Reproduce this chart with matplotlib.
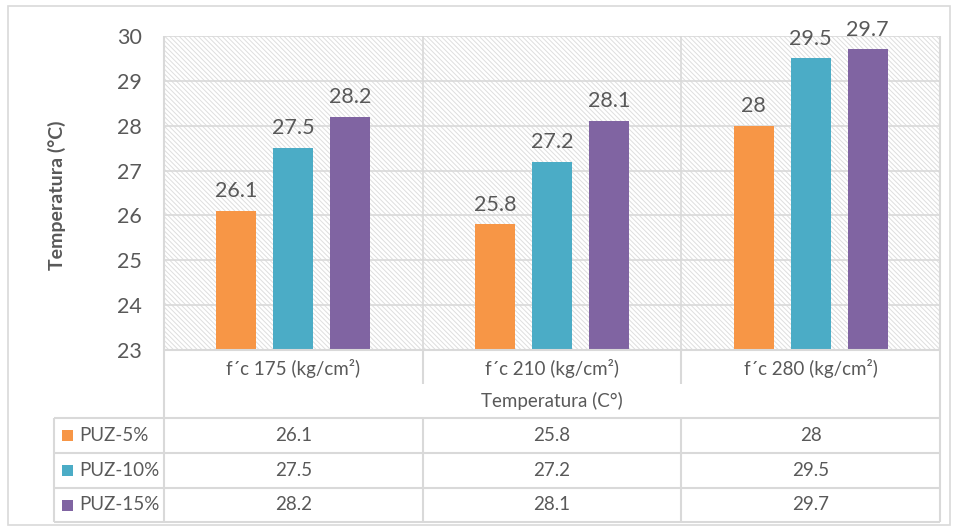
import matplotlib
matplotlib.use("Agg")
import matplotlib.pyplot as plt
from matplotlib.patches import Rectangle
import numpy as np

categories = ["f´c 175 (kg/cm²)", "f´c 210 (kg/cm²)", "f´c 280 (kg/cm²)"]
series_names = ["PUZ-5%", "PUZ-10%", "PUZ-15%"]
puz5 = [26.1, 25.8, 28]
puz10 = [27.5, 27.2, 29.5]
puz15 = [28.2, 28.1, 29.7]
values = [puz5, puz10, puz15]
colors = ["#F79646", "#4BACC6", "#8064A2"]
yticks = [23, 24, 25, 26, 27, 28, 29, 30]
x_title = "Temperatura (C°)"
y_title = "Temperatura (°C)"

plt.rcParams['font.family'] = ['Lato', 'DejaVu Sans']
plt.rcParams['hatch.linewidth'] = 0.7
TXT = "#595959"
GRID = "#d9d9d9"

W, H = 957, 531
fig = plt.figure(figsize=(W / 100, H / 100), dpi=100)

L, R, T, B = 164, 940, 36, 350
ax = fig.add_axes([L / W, 1 - B / H, (R - L) / W, (B - T) / H])
ax.set_xlim(-0.5, 2.5)
ax.set_ylim(23, 30)

# hatched background
bg = Rectangle((-0.5, 23), 3, 7, facecolor="white", edgecolor="#dedede",
               hatch="\\" * 7, linewidth=0, zorder=0)
ax.add_patch(bg)

for y in yticks:
    ax.axhline(y, color=GRID, lw=1.2, zorder=1)
for xb in [-0.5, 0.5, 1.5, 2.5]:
    ax.axvline(xb, color=GRID, lw=1.2, zorder=1)

x = np.arange(len(categories))
offsets = [-0.22, 0.0, 0.22]
bw = 0.155
for vals, off, c in zip(values, offsets, colors):
    ax.bar(x + off, np.array(vals) - 23, bottom=23, width=bw, color=c, zorder=3)
    for xi, v in zip(x, vals):
        ax.text(xi + off, v + 0.22, f"{v:g}", ha="center", va="bottom",
                fontsize=15.5, color=TXT, zorder=4)

ax.set_yticks(yticks)
ax.set_yticklabels([str(t) for t in yticks], fontsize=15.5, color=TXT)
ax.tick_params(axis="y", length=0, pad=16)
ax.set_xticks([])
for s in ax.spines.values():
    s.set_visible(False)

# overlay in pixel coordinates
ov = fig.add_axes([0, 0, 1, 1], facecolor="none")
ov.set_xlim(0, W)
ov.set_ylim(H, 0)
ov.axis("off")

def hl(y, x0, x1):
    ov.plot([x0, x1], [y, y], color=GRID, lw=1.5, solid_capstyle="butt")

def vl(xp, y0, y1):
    ov.plot([xp, xp], [y0, y1], color=GRID, lw=1.5, solid_capstyle="butt")

ov.add_patch(Rectangle((8, 6), 942, 519, facecolor="none", edgecolor=GRID, lw=1.2))

ov.text(57, 195, y_title, rotation=90, ha="center", va="center",
        fontsize=14, fontweight="bold", color=TXT)

hl(B, L, R)
vl(L, T, 522)
vl(R, T, 522)
cat_bounds = [L, 423, 681, R]
for xb in cat_bounds[1:-1]:
    vl(xb, B, 384)
    vl(xb, 418, 522)

row_lines = [418, 453, 488, 522]
for y in row_lines:
    hl(y, 54, R)
vl(54, 418, 522)

for i, cat in enumerate(categories):
    cx = (cat_bounds[i] + cat_bounds[i + 1]) / 2
    ov.text(cx, 368, cat, ha="center", va="center", fontsize=13.5, color=TXT)
ov.text((L + R) / 2, 401, x_title, ha="center", va="center", fontsize=13.5, color=TXT)

for r, (name, vals, c) in enumerate(zip(series_names, values, colors)):
    yc = (row_lines[r] + row_lines[r + 1]) / 2
    ov.add_patch(Rectangle((62, yc - 5.5), 11, 11, facecolor=c, edgecolor="none"))
    ov.text(79, yc, name, ha="left", va="center", fontsize=13.5, color=TXT)
    for i, v in enumerate(vals):
        cx = (cat_bounds[i] + cat_bounds[i + 1]) / 2
        ov.text(cx, yc, f"{v:g}", ha="center", va="center", fontsize=13.5, color=TXT)

fig.savefig("out.png", dpi=100, facecolor="white")
